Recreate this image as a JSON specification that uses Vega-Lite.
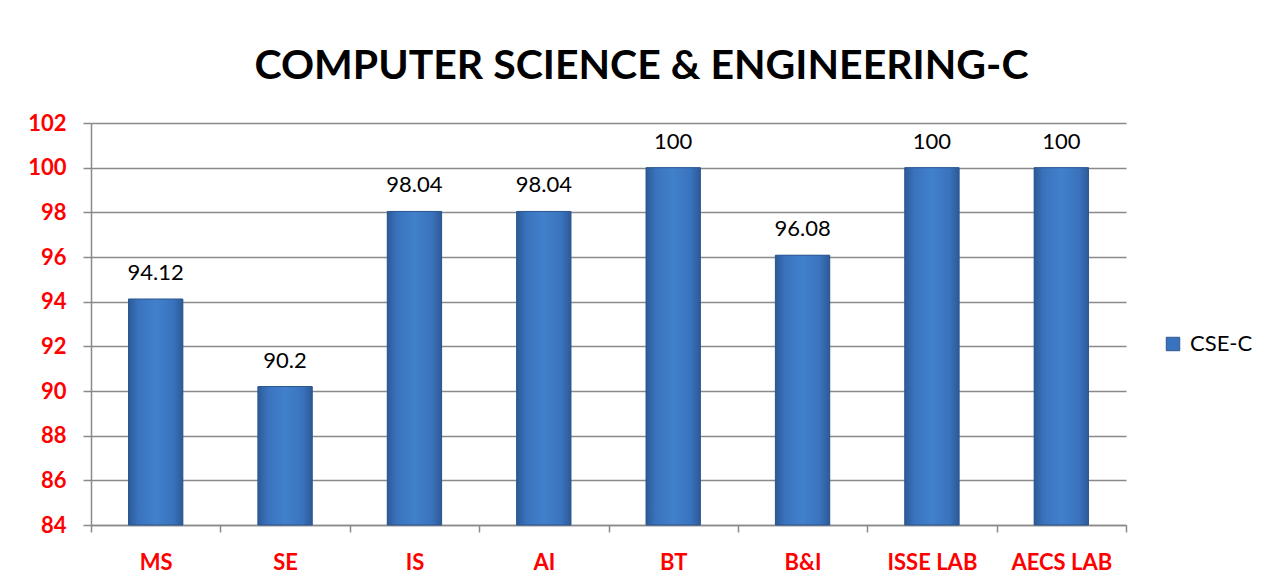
{
  "$schema": "https://vega.github.io/schema/vega-lite/v6.json",
  "width": 1035,
  "height": 402,
  "padding": {"left": 27, "top": 46, "right": 10, "bottom": 5},
  "background": "white",
  "title": {
    "text": "COMPUTER SCIENCE & ENGINEERING-C",
    "font": "Lato",
    "fontSize": 41,
    "fontWeight": "bold",
    "color": "#000000",
    "anchor": "middle",
    "dx": 33,
    "offset": 24
  },
  "data": {
    "values": [
      {"subject": "MS", "score": 94.12, "series": "CSE-C"},
      {"subject": "SE", "score": 90.2, "series": "CSE-C"},
      {"subject": "IS", "score": 98.04, "series": "CSE-C"},
      {"subject": "AI", "score": 98.04, "series": "CSE-C"},
      {"subject": "BT", "score": 100, "series": "CSE-C"},
      {"subject": "B&I", "score": 96.08, "series": "CSE-C"},
      {"subject": "ISSE LAB", "score": 100, "series": "CSE-C"},
      {"subject": "AECS LAB", "score": 100, "series": "CSE-C"}
    ]
  },
  "encoding": {
    "x": {
      "field": "subject",
      "type": "nominal",
      "sort": null,
      "scale": {"paddingInner": 0, "paddingOuter": 0},
      "axis": {
        "title": null,
        "labelAngle": 0,
        "labelFont": "Lato",
        "labelFontSize": 22,
        "labelFontWeight": "bold",
        "labelColor": "#ff0000",
        "labelPadding": 20,
        "tickBand": "extent",
        "tickSize": 7,
        "tickColor": "#8a8a8a",
        "tickWidth": 1.5,
        "domainColor": "#8a8a8a",
        "domainWidth": 1.5,
        "grid": false
      }
    },
    "y": {
      "field": "score",
      "type": "quantitative",
      "scale": {"domain": [84, 102], "zero": false, "nice": false},
      "axis": {
        "title": null,
        "values": [84, 86, 88, 90, 92, 94, 96, 98, 100, 102],
        "labelFont": "Lato",
        "labelFontSize": 22,
        "labelFontWeight": "bold",
        "labelColor": "#ff0000",
        "labelPadding": 17,
        "tickSize": 8,
        "tickColor": "#8a8a8a",
        "tickWidth": 1.5,
        "domainColor": "#8a8a8a",
        "domainWidth": 1.5,
        "grid": true,
        "gridColor": "#8a8a8a",
        "gridWidth": 1.5
      }
    }
  },
  "layer": [
    {
      "mark": {
        "type": "bar",
        "width": {"band": 0.42}
      },
      "encoding": {
        "y2": {"datum": 84},
        "color": {
          "field": "series",
          "type": "nominal",
          "scale": {"range": ["#3a73bd"]},
          "legend": {
            "title": null,
            "orient": "none",
            "legendX": 1071,
            "legendY": 210,
            "symbolType": "square",
            "symbolSize": 180,
            "symbolStrokeColor": "#2c5790",
            "symbolStrokeWidth": 1,
            "labelFont": "Lato",
            "labelFontSize": 22,
            "labelColor": "#000000",
            "labelOffset": 6
          }
        }
      }
    },
    {
      "mark": {
        "type": "bar",
        "width": {"band": 0.42},
        "fill": {
          "gradient": "linear",
          "x1": 0, "y1": 0, "x2": 1, "y2": 0,
          "stops": [
            {"offset": 0, "color": "#2d5a97"},
            {"offset": 0.18, "color": "#3a73bd"},
            {"offset": 0.5, "color": "#4180cc"},
            {"offset": 0.82, "color": "#3a73bd"},
            {"offset": 1, "color": "#2d5a97"}
          ]
        },
        "stroke": "#2c5790",
        "strokeWidth": 1
      },
      "encoding": {
        "y2": {"datum": 84}
      }
    },
    {
      "mark": {
        "type": "text",
        "font": "Lato",
        "fontSize": 22,
        "baseline": "bottom",
        "dy": -14,
        "color": "#000000"
      },
      "encoding": {
        "text": {"field": "score", "type": "quantitative"}
      }
    }
  ],
  "config": {
    "view": {"stroke": null}
  }
}
